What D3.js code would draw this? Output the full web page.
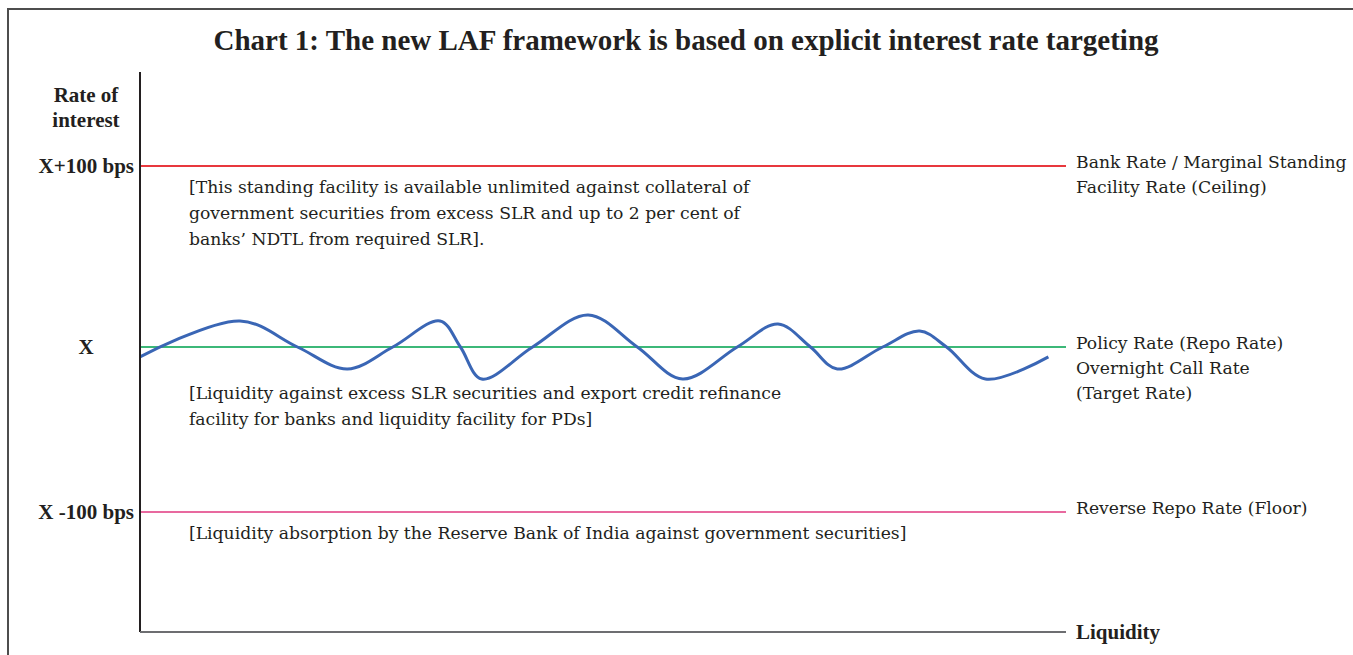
<!DOCTYPE html>
<html>
<head>
<meta charset="utf-8">
<title>LAF framework</title>
<script src="https://d3js.org/d3.v7.min.js"></script>
<style>
  html, body { margin:0; padding:0; background:#fff; }
  svg text { font-family: "DejaVu Serif", serif; fill:#231f20; }
  svg text.bold { font-family: "Liberation Serif", serif; font-weight:bold; }
</style>
</head>
<body>
<svg id="chart" width="1353" height="655"></svg>
<script>
// corridor levels, in bps relative to the policy rate X
var levels = [100, 0, -100];
var levelNames = ["ceiling", "policy", "floor"];
var levelColors = ["#e8383d", "#3cb878", "#e8699f"];
var tickLabels = ["X+100 bps", "X", "X -100 bps"];

// right hand labels for each level
var rightLabels = [
  ["Bank Rate / Marginal Standing", "Facility Rate (Ceiling)"],
  ["Policy Rate (Repo Rate)", "Overnight Call Rate", "(Target Rate)"],
  ["Reverse Repo Rate (Floor)"]
];

// notes under each level
var notes = [
  ["[This standing facility is available unlimited against collateral of",
   "government securities from excess SLR and up to 2 per cent of",
   "banks\u2019 NDTL from required SLR]."],
  ["[Liquidity against excess SLR securities and export credit refinance",
   "facility for banks and liquidity facility for PDs]"],
  ["[Liquidity absorption by the Reserve Bank of India against government securities]"]
];

// overnight call rate path (liquidity, bps from X)
var callX = [0, 10.8, 17, 22.4, 27.3, 32.4, 34.6, 36.9, 42.4, 48.4, 53.7, 58.6, 64.5, 68.9, 72.4, 75.3, 80.2, 84.2, 87.1, 91.3, 98.1];
var callY = [-6, 14.4, 0, -13.3, 0, 14.4, 0, -19.4, 0, 17.7, 0, -19.4, 0, 12.7, 0, -13.3, 0, 8.8, 0, -19.4, -6];

var svg = d3.select("#chart");

var x = d3.scaleLinear().domain([0, 100]).range([140, 1066]);
var y = d3.scaleLinear().domain([-100, 0, 100]).range([512, 347, 166]);

// frame
svg.append("path")
  .attr("d", "M8,655V9H1353")
  .attr("fill", "none").attr("stroke", "#4d4d4d").attr("stroke-width", 2);

// title
svg.append("text")
  .attr("class", "bold")
  .attr("x", 686).attr("y", 50)
  .attr("text-anchor", "middle")
  .style("font-size", "29px")
  .text("Chart 1: The new LAF framework is based on explicit interest rate targeting");

// y axis title
svg.append("text")
  .attr("class", "bold")
  .attr("x", 86).attr("y", 102)
  .attr("text-anchor", "middle")
  .style("font-size", "21px")
  .selectAll("tspan").data(["Rate of", "interest"]).join("tspan")
  .attr("x", 86).attr("dy", function (d, i) { return i ? 25 : 0; })
  .text(function (d) { return d; });

// level lines
svg.selectAll("line.level").data(levels).join("line")
  .attr("class", "level")
  .attr("x1", x(0)).attr("x2", x(100))
  .attr("y1", function (d) { return y(d); })
  .attr("y2", function (d) { return y(d); })
  .attr("stroke", function (d, i) { return levelColors[i]; })
  .attr("stroke-width", 2);

// call rate wave
var pts = callX.map(function (v, i) { return [v, callY[i]]; });
svg.append("path")
  .datum(pts)
  .attr("fill", "none")
  .attr("stroke", "#3a66b5")
  .attr("stroke-width", 3)
  .attr("d", d3.line()
    .x(function (d) { return x(d[0]); })
    .y(function (d) { return y(d[1]); })
    .curve(d3.curveCatmullRom.alpha(0.5)));

// axes
svg.append("line")
  .attr("x1", 140).attr("x2", 140).attr("y1", 72).attr("y2", 632)
  .attr("stroke", "#231f20").attr("stroke-width", 2);
svg.append("line")
  .attr("x1", 140).attr("x2", x(100)).attr("y1", 632).attr("y2", 632)
  .attr("stroke", "#6d6e71").attr("stroke-width", 2);

// tick labels on the left
svg.selectAll("text.tick").data(levels).join("text")
  .attr("class", "tick bold")
  .attr("x", function (d, i) { return i === 1 ? 86 : 134; })
  .attr("y", function (d) { return y(d) + 7; })
  .attr("text-anchor", function (d, i) { return i === 1 ? "middle" : "end"; })
  .style("font-size", "21px")
  .text(function (d, i) { return tickLabels[i]; });

// right labels
svg.selectAll("text.rlabel").data(levels).join("text")
  .attr("class", "rlabel")
  .attr("y", function (d) { return y(d) + 2; })
  .style("font-size", "17.2px")
  .selectAll("tspan").data(function (d, i) { return rightLabels[i]; }).join("tspan")
  .attr("x", 1076)
  .attr("dy", function (d, i) { return i ? 25 : 0; })
  .text(function (d) { return d; });

// notes
svg.selectAll("text.note").data(levels).join("text")
  .attr("class", "note")
  .attr("y", function (d, i) { return y(d) + (i === 1 ? 52 : 27); })
  .style("font-size", "17.2px")
  .selectAll("tspan").data(function (d, i) { return notes[i]; }).join("tspan")
  .attr("x", 189)
  .attr("dy", function (d, i) { return i ? 26 : 0; })
  .text(function (d) { return d; });

// x axis label
svg.append("text")
  .attr("class", "bold")
  .attr("x", 1076).attr("y", 639)
  .style("font-size", "21px")
  .text("Liquidity");
</script>
</body>
</html>
